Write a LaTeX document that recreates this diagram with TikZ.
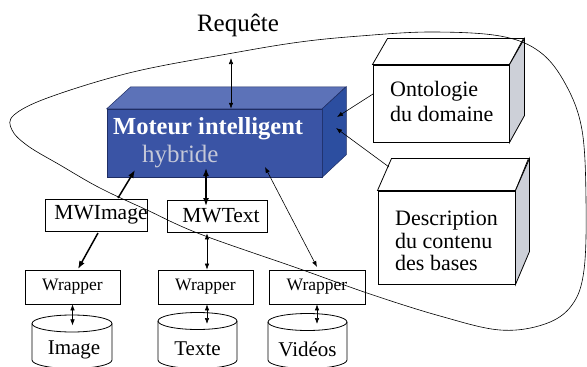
\documentclass[tikz,border=0pt]{standalone}
\usepackage{fontspec}
\setmainfont{Liberation Serif}
\usetikzlibrary{arrows.meta,calc}
\definecolor{frontblue}{RGB}{58,84,165}
\definecolor{topblue}{RGB}{92,114,184}
\definecolor{sideblue}{RGB}{44,78,160}
\definecolor{edgeblue}{RGB}{30,45,100}
\definecolor{hybgrey}{RGB}{197,200,216}
\definecolor{sidegrey}{RGB}{205,208,216}
\tikzset{
  thinarrow/.style={line width=0.6pt, -{Latex[length=6pt,width=4.5pt]}},
  thinboth/.style={line width=0.6pt, {Latex[length=6pt,width=4.5pt]}-{Latex[length=6pt,width=4.5pt]}},
  thickarrow/.style={line width=1.5pt, -{Latex[length=8pt,width=6pt]}},
  thickboth/.style={line width=1.5pt, {Latex[length=8pt,width=6pt]}-{Latex[length=8pt,width=6pt]}},
  plainbox/.style={draw, line width=0.8pt, inner sep=0pt, fill=white},
  frontface/.style={draw, line width=1pt, inner sep=0pt, fill=white},
  sideface/.style={draw, line width=0.8pt, fill=sidegrey},
  topface/.style={draw, line width=0.8pt, fill=white},
  wraptext/.style={font=\fontsize{17.5}{20}\selectfont},
  mwtext/.style={font=\fontsize{21.5}{24}\selectfont},
  dbtext/.style={font=\fontsize{21}{24}\selectfont},
  loop/.style={line width=0.6pt},
}
\begin{document}
\begin{tikzpicture}[x=1pt,y=-1pt]
\clip (0,0) rectangle (587,367);
\fill[white] (0,0) rectangle (587,367);

% query label
\node[font=\fontsize{25}{28}\selectfont] (req) at (238,25) {Requête};

% hybrid engine (3D blue block)
\node[draw=edgeblue, line width=0.5pt, fill=frontblue, minimum width=215pt, minimum height=68pt, inner sep=0pt] (moteur) at (214.5,143) {};
\fill[topblue, draw=edgeblue, line width=0.5pt] (moteur.north west) -- ++(24,-22) -- ++(215,0) -- (moteur.north east) -- cycle;
\fill[sideblue, draw=edgeblue, line width=0.5pt] (moteur.north east) -- ++(24,-22) -- ++(0,68) -- (moteur.south east) -- cycle;
\node[anchor=west, text=white, font=\bfseries\fontsize{24.5}{28}\selectfont, inner sep=0pt] (motT) at (113,129) {Moteur intelligent};
\node[anchor=west, text=hybgrey, font=\fontsize{25}{28}\selectfont, inner sep=0pt] (hybT) at (142,157) {hybride};

% domain ontology block
\node[frontface, minimum width=136pt, minimum height=77pt] (onto) at (441,103.5) {};
\draw[topface] (onto.north west) -- ++(15,-26) -- ++(136,0) -- (onto.north east) -- cycle;
\draw[sideface] (onto.north east) -- ++(15,-26) -- ++(0,77) -- (onto.south east) -- cycle;
\node[align=left, anchor=west, inner sep=0pt, font=\fontsize{22}{25}\selectfont] (ontoT) at (390,101) {Ontologie\\du domaine};

% content description block
\node[frontface, minimum width=137pt, minimum height=93pt] (desc) at (446.5,237.5) {};
\draw[topface] (desc.north west) -- ++(14,-32) -- ++(137,0) -- (desc.north east) -- cycle;
\draw[sideface] (desc.north east) -- ++(14,-32) -- ++(0,93) -- (desc.south east) -- cycle;
\node[align=left, anchor=west, inner sep=0pt, font=\fontsize{22}{22.5}\selectfont] (descT) at (395,241) {Description\\du contenu\\des bases};

% mediators
\node[plainbox, mwtext, minimum width=101pt, minimum height=32pt] (mwimage) at (96.5,215) {\hspace*{9pt}MWImage};
\node[plainbox, mwtext, minimum width=100pt, minimum height=32pt] (mwtext) at (217,216) {\hspace*{8pt}MWText};

% wrappers
\node[plainbox, wraptext, minimum width=95pt, minimum height=34pt] (wr1) at (72.5,287) {Wrapper};
\node[plainbox, wraptext, minimum width=95pt, minimum height=34pt] (wr2) at (205.5,287) {Wrapper};
\node[plainbox, wraptext, minimum width=96pt, minimum height=34pt] (wr3) at (317,287) {Wrapper};

% data sources (cylinders)
\foreach \cx/\cy/\r/\nm in {72/323.5/40/img, 197.5/321/39.5/txt, 307.5/322/39.5/vid}{
  \draw[line width=0.8pt, fill=white] (\cx-\r,\cy) -- (\cx-\r,360)
     arc[start angle=180, end angle=0, x radius=\r, y radius=8.5] -- (\cx+\r,\cy);
  \draw[line width=0.8pt] (\cx,\cy) ellipse [x radius=\r, y radius=8.5];
  \coordinate (\nm top) at (\cx,\cy);
}
\node[dbtext] (dbimg) at (74,350) {Image};
\node[dbtext] (dbtxt) at (197.5,349) {Texte};
\node[dbtext] (dbvid) at (307.5,349) {Vidéos};

% connectors
\coordinate (reqA) at (231,58);
\draw[thinboth] (reqA) -- (reqA |- moteur.north);

\coordinate (ontoOut) at (373,94);
\coordinate (ontoIn) at (337,117);
\draw[thinarrow] (ontoOut) -- (ontoIn);
\coordinate (descOut) at (389,167);
\coordinate (descIn) at (336,128);
\draw[thinarrow] (descOut) -- (descIn);

\coordinate (mwiUp) at (118,198);
\coordinate (motA) at (135,170);
\draw[thickarrow] (mwiUp) -- (motA);
\coordinate (mwiDown) at (98,233);
\coordinate (wr1In) at (78,269);
\draw[thickarrow] (mwiDown) -- (wr1In);

\coordinate (motB) at (206,168);
\coordinate (mwtIn) at (206,206);
\draw[thickboth] (motB) -- (mwtIn);
\draw[thinboth] ([yshift=-1pt]mwtext.south -| 207,0) -- (wr2.north -| 207,0);

\coordinate (motC) at (265,167);
\coordinate (wr3In) at (317,267);
\draw[thinboth] (motC) -- (wr3In);

\draw[thinboth] (wr1.south) -- ++(0,21);
\draw[thinboth] (wr2.south -| 207,0) -- (207,324);
\draw[thinboth] (wr3.south) -- (317,324);

% federation boundary
\draw[loop] plot[smooth cycle, tension=0.6] coordinates {
  (300,42) (233,53) (133,72) (50,97) (14,115) (12,130) (28,146) (60,165)
  (100,188) (147,210) (200,234) (300,269) (370,294) (440,316) (500,330)
  (545,324) (572,305) (584,270) (586,200) (582,130) (566,85) (540,52)
  (500,36) (430,32) (360,36)};
\end{tikzpicture}
\end{document}
